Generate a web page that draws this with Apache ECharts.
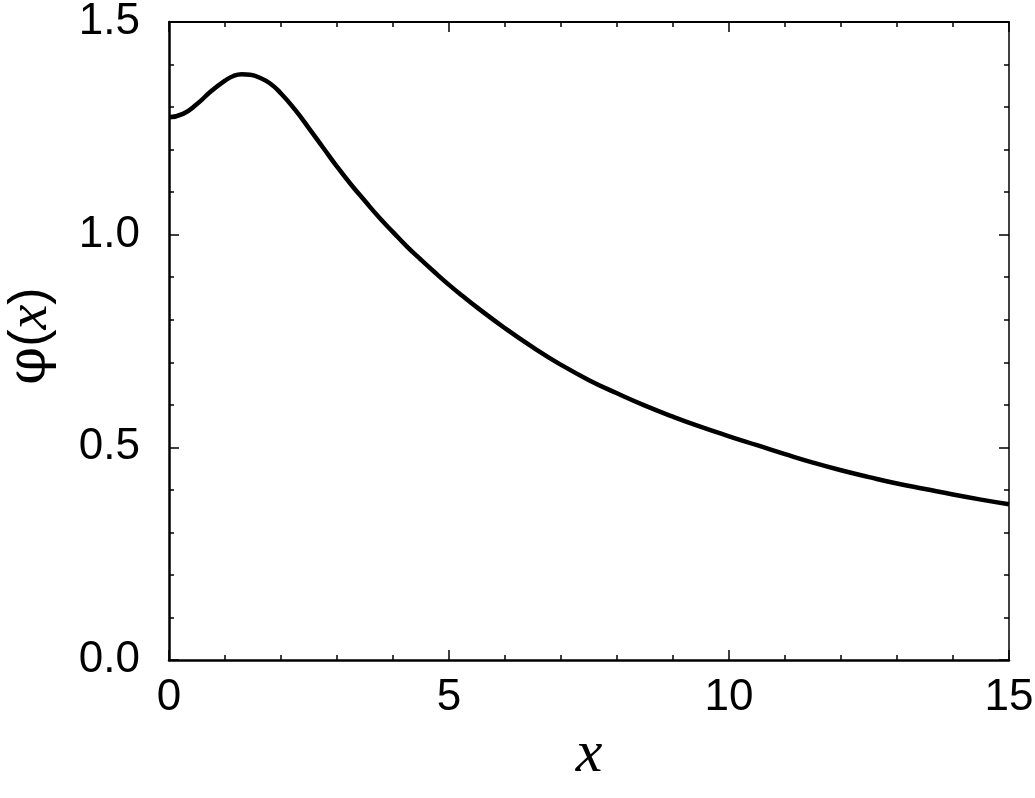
<!DOCTYPE html>
<html style="height: 100%">
<head>
    <meta charset="UTF-8">
    <script src="https://cdn.jsdelivr.net/npm/echarts@6/dist/echarts.min.js"></script>
</head>
<body style="margin: 0; background: #FFF; height: 798px; overflow: hidden;">
<div id="chart" style="width: 1035px; height: 798px;"></div>
<script>
    // values
    var xs = [0, 0.25, 0.5, 0.75, 1.0, 1.15, 1.3, 1.45, 1.6, 1.8, 2.0, 2.25, 2.5, 2.75, 3.0, 3.25,
        3.5, 3.75, 4.0, 4.25, 4.5, 4.75, 5.0, 5.25, 5.5, 6.0, 6.5, 7.0, 7.5, 8.0, 8.5, 9.0, 9.5, 10,
        10.5, 11, 11.5, 12, 12.5, 13, 13.5, 14, 14.5, 15];
    var phi = [1.276, 1.284, 1.307, 1.337, 1.362, 1.373, 1.377, 1.376, 1.370, 1.356, 1.332, 1.294,
        1.250, 1.205, 1.160, 1.118, 1.079, 1.041, 1.006, 0.972, 0.941, 0.911, 0.882, 0.855, 0.829,
        0.780, 0.735, 0.694, 0.658, 0.627, 0.598, 0.572, 0.548, 0.526, 0.505, 0.484, 0.464, 0.446,
        0.430, 0.415, 0.402, 0.389, 0.377, 0.366];
    var xTicks = [0, 5, 10, 15];
    var yTicks = [0.0, 0.5, 1.0, 1.5];

    var points = [];
    for (var i = 0; i < xs.length; i++) {
        points.push([xs[i], phi[i]]);
    }

    var numFont = '"Liberation Sans", Arial, Helvetica, sans-serif';

    function xAxisCfg(pos, labels, width) {
        return {
            type: 'value', position: pos, min: 0, max: 15, interval: 5,
            axisLine: {show: true, onZero: false, lineStyle: {color: '#000', width: width}},
            axisTick: {show: true, inside: true, length: 10, lineStyle: {color: '#000', width: 1.5}},
            minorTick: {show: true, splitNumber: 5, length: 5, lineStyle: {color: '#000', width: 1.5}},
            splitLine: {show: false},
            axisLabel: {
                show: labels, margin: 16, color: '#000', fontSize: 44, fontFamily: numFont,
                formatter: function (v) { return xTicks.indexOf(v) >= 0 ? String(v) : ''; }
            }
        };
    }

    function yAxisCfg(pos, labels, width) {
        return {
            type: 'value', position: pos, min: 0, max: 1.5, interval: 0.5,
            axisLine: {show: true, onZero: false, lineStyle: {color: '#000', width: width}},
            axisTick: {show: true, inside: true, length: 10, lineStyle: {color: '#000', width: 1.5}},
            minorTick: {show: true, splitNumber: 5, length: 5, lineStyle: {color: '#000', width: 1.5}},
            splitLine: {show: false},
            axisLabel: {
                show: labels, margin: 29, color: '#000', fontSize: 44, fontFamily: numFont,
                formatter: function (v) { return yTicks.indexOf(v) >= 0 ? v.toFixed(1) : ''; }
            }
        };
    }

    var xBottom = xAxisCfg('bottom', true, 2.5);
    xBottom.name = '{i|x}';
    xBottom.nameLocation = 'middle';
    xBottom.nameGap = 46;
    xBottom.nameTextStyle = {
        rich: {i: {fontFamily: '"Liberation Serif", "DejaVu Serif", serif', fontStyle: 'italic', fontSize: 60, color: '#000'}}
    };

    var yLeft = yAxisCfg('left', true, 2.5);
    yLeft.name = '{p|φ}{b|(}{i|x}{b|)}';
    yLeft.nameLocation = 'middle';
    yLeft.nameGap = 110;
    yLeft.nameRotate = 90;
    yLeft.nameTextStyle = {
        padding: [0, 0, 0, 10],
        rich: {
            p: {fontFamily: '"DejaVu Serif", serif', fontSize: 54, color: '#000'},
            b: {fontFamily: numFont, fontSize: 52, color: '#000'},
            i: {fontFamily: '"Liberation Serif", serif', fontStyle: 'italic', fontSize: 56, color: '#000'}
        }
    };

    var chart = echarts.init(document.getElementById('chart'));
    chart.setOption({
        animation: false,
        grid: {left: 169, right: 26, top: 22, bottom: 138, containLabel: false, outerBoundsMode: 'none'},
        xAxis: [xBottom, xAxisCfg('top', false, 2)],
        yAxis: [yLeft, yAxisCfg('right', false, 1.5)],
        series: [{
            type: 'line',
            data: points,
            smooth: true,
            showSymbol: false,
            lineStyle: {color: '#000', width: 4.5}
        }]
    });
</script>
</body>
</html>
